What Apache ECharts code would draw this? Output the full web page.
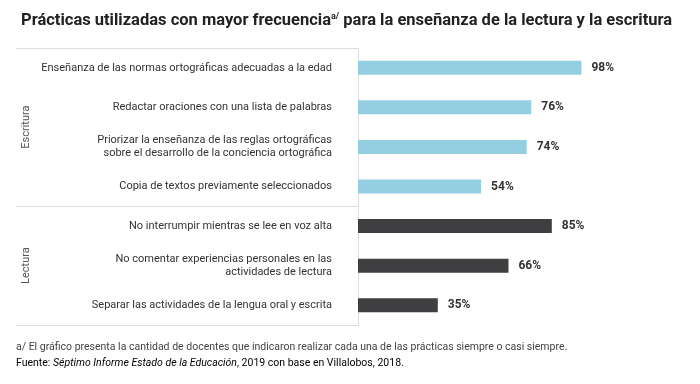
<!DOCTYPE html>
<html><head><meta charset="utf-8">
<script src="https://cdn.jsdelivr.net/npm/echarts@6/dist/echarts.min.js"></script>
<style>html,body{margin:0;padding:0;background:#fff}#c{width:700px;height:384px}</style>
</head><body><div id="c"></div>
<script>
const categories = [
  "Enseñanza de las normas ortográficas adecuadas a la edad",
  "Redactar oraciones con una lista de palabras",
  "Priorizar la enseñanza de las reglas ortográficas\nsobre el desarrollo de la conciencia ortográfica",
  "Copia de textos previamente seleccionados",
  "No interrumpir mientras se lee en voz alta",
  "No comentar experiencias personales en las\nactividades de lectura",
  "Separar las actividades de la lengua oral y escrita"
];
const values = [98, 76, 74, 54, 85, 66, 35];
const groups = ["Escritura", "Escritura", "Escritura", "Escritura", "Lectura", "Lectura", "Lectura"];

const FONT = "Roboto";
const colors = { "Escritura": "#93CEE1", "Lectura": "#3F3F41" };

const chart = echarts.init(document.getElementById('c'));
const gridTop = 48, gridLeft = 358, gridRight = 114, gridH = 277;

chart.setOption({
  animation: false,
  textStyle: { fontFamily: FONT },
  title: {
    left: 16, top: 7,
    text: "{t|Prácticas utilizadas con mayor frecuencia}{s|a/}{t| para la enseñanza de la lectura y la escritura}",
    textStyle: {
      rich: {
        t: { fontFamily: FONT, fontSize: 16.5, fontWeight: 'bold', color: '#222' },
        s: { fontFamily: FONT, fontSize: 9, fontWeight: 'bold', color: '#222', verticalAlign: 'top', padding: [0,0,6,0] }
      }
    }
  },
  grid: { left: gridLeft, right: gridRight, top: gridTop, height: gridH, containLabel: false, outerBoundsMode: 'none' },
  xAxis: { type: 'value', min: 0, max: 100, show: false },
  yAxis: {
    type: 'category', data: categories, inverse: true,
    axisLine: { show: true, lineStyle: { color: '#ddd', width: 1 } },
    axisTick: { show: false },
    axisLabel: { color: '#333', fontSize: 11, margin: 26, lineHeight: 13, fontFamily: FONT, align: 'right' }
  },
  series: [{
    type: 'bar', barWidth: 14,
    data: values.map((v, i) => ({ value: v, itemStyle: { color: colors[groups[i]] } })),
    label: { show: true, position: 'right', distance: 10, formatter: p => p.value + '%',
      color: '#333', fontSize: 12, fontWeight: 'bold', fontFamily: FONT }
  }]
});

const band = gridH / categories.length;
const graphics = [];
const lineStyle = { stroke: '#ddd', lineWidth: 1 };
const bounds = [0];
for (let i = 1; i <= groups.length; i++) {
  if (i === groups.length || groups[i] !== groups[i - 1]) bounds.push(i);
}
bounds.forEach(b => {
  const y = Math.round(gridTop + b * band) + 0.5;
  graphics.push({ type: 'line', shape: { x1: 16, y1: y, x2: gridLeft, y2: y }, style: lineStyle, silent: true });
});
for (let k = 0; k < bounds.length - 1; k++) {
  const yc = gridTop + (bounds[k] + bounds[k + 1]) / 2 * band;
  graphics.push({ type: 'text', x: 26, y: yc, rotation: Math.PI / 2,
    style: { text: groups[bounds[k]], fontSize: 11, fontFamily: FONT, fill: '#555', align: 'center', verticalAlign: 'middle' } });
}
graphics.push({ type: 'text', left: 16, top: 342,
  style: { text: "a/ El gráfico presenta la cantidad de docentes que indicaron realizar cada una de las prácticas siempre o casi siempre.",
    fontSize: 10.5, fontFamily: FONT, fill: '#444' } });
graphics.push({ type: 'text', left: 16, top: 358,
  style: { text: "{n|Fuente: }{i|Séptimo Informe Estado de la Educación}{n|, 2019 con base en Villalobos, 2018.}",
    rich: { n: { fontSize: 10.5, fontFamily: FONT, color: '#444' },
            i: { fontSize: 10.5, fontFamily: FONT, fontStyle: 'italic', color: '#444' } } } });
chart.setOption({ graphic: graphics });
</script>
</body></html>
